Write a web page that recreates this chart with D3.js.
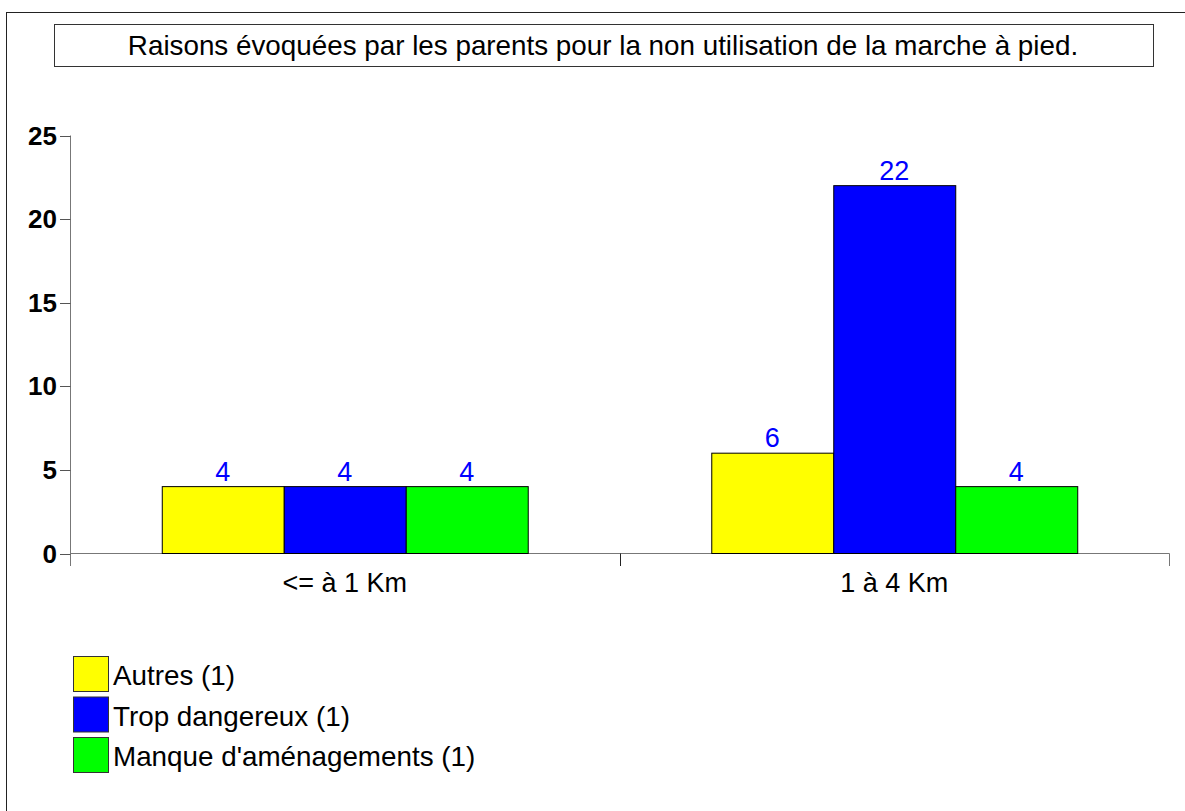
<!DOCTYPE html>
<html>
<head>
<meta charset="utf-8">
<script src="https://cdn.jsdelivr.net/npm/d3@7"></script>
<style>
  html, body { margin: 0; padding: 0; background: #fff; }
  svg { display: block; font-family: "Liberation Sans", Arial, sans-serif; }
</style>
</head>
<body>
<svg id="chart" width="1185" height="811"></svg>
<script>
// chart data
const title = "Raisons évoquées par les parents pour la non utilisation de la marche à pied.";
const categories = ["<= à 1 Km", "1 à 4 Km"];
const seriesNames = ["Autres (1)", "Trop dangereux (1)", "Manque d'aménagements (1)"];
const seriesColors = ["#ffff00", "#0000ff", "#00ff00"];
const autres = [4, 6];
const tropDangereux = [4, 22];
const manqueAmenagements = [4, 4];
const yTicks = [0, 5, 10, 15, 20, 25];

const seriesValues = [autres, tropDangereux, manqueAmenagements];

const svg = d3.select('#chart');

// outer frame (runs off the right and bottom edges)
svg.append('rect')
  .attr('x', 6.5).attr('y', 12.5)
  .attr('width', 1200).attr('height', 820)
  .attr('fill', 'none').attr('stroke', '#222').attr('stroke-width', 1);

// title box
svg.append('rect')
  .attr('x', 54.5).attr('y', 24.5)
  .attr('width', 1099).attr('height', 42)
  .attr('fill', '#fff').attr('stroke', '#333').attr('stroke-width', 1);
svg.append('text')
  .attr('x', 603).attr('y', 55)
  .attr('text-anchor', 'middle')
  .attr('font-size', 27.8)
  .attr('fill', '#000')
  .text(title);

// scales
const x0 = d3.scaleBand().domain(categories).range([70, 1169]).padding(0);
const x1 = d3.scaleBand().domain(d3.range(seriesNames.length))
  .range([x0.bandwidth() * 0.167, x0.bandwidth() * 0.833]).padding(0);
const y = d3.scaleLinear().domain([0, 25]).range([553.5, 135.5]);

// y axis
const yAxis = svg.append('g');
yAxis.append('line')
  .attr('x1', 70.5).attr('x2', 70.5)
  .attr('y1', y(25)).attr('y2', 566)
  .attr('stroke', '#777');
yAxis.selectAll('line.tick')
  .data(yTicks)
  .join('line')
  .attr('class', 'tick')
  .attr('x1', 60).attr('x2', 70.5)
  .attr('y1', d => Math.round(y(d)) + 0.5).attr('y2', d => Math.round(y(d)) + 0.5)
  .attr('stroke', '#555');
yAxis.selectAll('text')
  .data(yTicks)
  .join('text')
  .attr('x', 57).attr('y', d => y(d) + 9)
  .attr('text-anchor', 'end')
  .attr('font-size', 26)
  .attr('font-weight', 'bold')
  .attr('fill', '#000')
  .text(d => d);

// x axis
const xAxis = svg.append('g');
xAxis.append('line')
  .attr('x1', 70).attr('x2', 1169.5)
  .attr('y1', 553.5).attr('y2', 553.5)
  .attr('stroke', '#777');
xAxis.selectAll('line.tick')
  .data(categories)
  .join('line')
  .attr('class', 'tick')
  .attr('x1', d => Math.round(x0(d) + x0.bandwidth()) + 0.5)
  .attr('x2', d => Math.round(x0(d) + x0.bandwidth()) + 0.5)
  .attr('y1', 553.5).attr('y2', 566)
  .attr('stroke', (d, i) => i === categories.length - 1 ? '#777' : '#222');
xAxis.selectAll('text')
  .data(categories)
  .join('text')
  .attr('x', d => x0(d) + x0.bandwidth() / 2)
  .attr('y', 592)
  .attr('text-anchor', 'middle')
  .attr('font-size', 27)
  .attr('fill', '#000')
  .text(d => d);

// bars
const groups = svg.append('g')
  .selectAll('g')
  .data(categories)
  .join('g')
  .attr('transform', d => `translate(${x0(d)},0)`);

groups.selectAll('rect')
  .data((d, ci) => seriesValues.map((vals, si) => ({ si, v: vals[ci] })))
  .join('rect')
  .attr('x', d => x1(d.si) + 0.5)
  .attr('y', d => y(d.v))
  .attr('width', x1.bandwidth())
  .attr('height', d => y(0) - y(d.v))
  .attr('fill', d => seriesColors[d.si])
  .attr('stroke', '#000')
  .attr('stroke-width', 1);

groups.selectAll('text')
  .data((d, ci) => seriesValues.map((vals, si) => ({ si, v: vals[ci] })))
  .join('text')
  .attr('x', d => x1(d.si) + x1.bandwidth() / 2)
  .attr('y', d => y(d.v) - 6)
  .attr('text-anchor', 'middle')
  .attr('font-size', 27)
  .attr('fill', '#0000ff')
  .text(d => d.v);

// legend
const legend = svg.append('g')
  .selectAll('g')
  .data(seriesNames)
  .join('g')
  .attr('transform', (d, i) => `translate(73,${656 + i * 40.5})`);
legend.append('rect')
  .attr('x', 0.5).attr('y', 0.5)
  .attr('width', 35).attr('height', 35)
  .attr('fill', (d, i) => seriesColors[i])
  .attr('stroke', '#333');
legend.append('text')
  .attr('x', 40).attr('y', 29)
  .attr('font-size', 27.8)
  .attr('fill', '#000')
  .text(d => d);
</script>
</body>
</html>
